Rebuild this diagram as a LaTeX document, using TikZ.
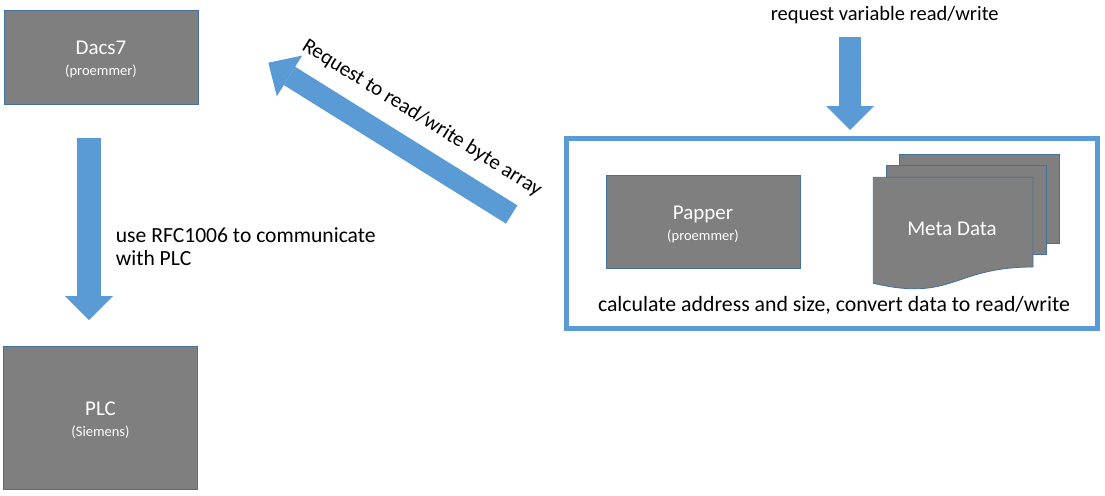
\documentclass[tikz,border=0pt]{standalone}
\usepackage{fontspec}
\setmainfont{Carlito}
\usetikzlibrary{arrows.meta}
\definecolor{boxgray}{HTML}{7F7F7F}
\definecolor{boxedge}{HTML}{41719C}
\definecolor{arrowblue}{HTML}{5B9BD5}
\newcommand{\bigtxt}{\fontsize{21}{23}\selectfont}
\newcommand{\smalltxt}{\fontsize{14.5}{17}\selectfont}
\newcommand{\boxtext}[2]{\raisebox{-3.5pt}[\height][\depth]{\begin{tabular}{@{}c@{}}#1\\[-2pt]{\smalltxt #2}\end{tabular}}}
\tikzset{
  graybox/.style={draw=boxedge, line width=0.8pt, fill=boxgray, text=white, align=center, inner sep=0pt, font=\bigtxt},
  page/.style={draw=boxedge, line width=0.8pt, fill=boxgray},
  container/.style={draw=arrowblue, line width=5pt, inner sep=0pt},
  label/.style={font=\bigtxt, text=black, inner sep=0pt},
  blockarrow/.style={draw=arrowblue, line cap=butt}
}
\begin{document}
\begin{tikzpicture}[x=1pt, y=-1pt]
\useasboundingbox (0,0) rectangle (1105,495);

% boxes
\node[graybox, minimum width=194pt, minimum height=94pt] (dacs) at (101,57) {\boxtext{Dacs7}{(proemmer)}};
\node[graybox, minimum width=194pt, minimum height=142.6pt] (plc) at (100.5,418) {\boxtext{PLC}{(Siemens)}};

% container
\node[container, minimum width=531pt, minimum height=190pt] (group) at (832,233) {};
\node[graybox, minimum width=194pt, minimum height=93pt] (papper) at (703,221.5) {\boxtext{Papper}{(proemmer)}};

% meta data (multi-document)
\path[page] (899,154.3) rectangle (1059,243.3);
\path[page] (886,165.3) rectangle (1046,254.5);
\path[page] (873.3,177.3) -- (1033,177.3) -- (1033,267)
   .. controls (953,267) and (953,302) .. (873.3,283.3) -- cycle;
\node[label, text=white] (meta) at (952,229) {Meta Data};

% labels
\node[label, font=\fontsize{20.5}{23}\selectfont] (req) at (884.7,15) {request variable read/write};
\node[label, anchor=west, align=left, font=\fontsize{21.6}{24}\selectfont] (rfc) at (115.7,246.5) {use RFC1006 to communicate\\[-1pt]with PLC};
\node[label, font=\fontsize{21.8}{24}\selectfont] (calc) at (834,305) {calculate address and size, convert data to read/write};
\node[label, rotate=-32] (diag) at (422,118) {Request to read/write byte array};

% arrows
\coordinate (d1s) at (89,138);
\coordinate (d1e) at (89,320);
\coordinate (d2s) at (850,37);
\coordinate (d2e) at (850,130);
\coordinate (d3s) at (511.7,214.5);
\coordinate (d3e) at (268.3,62.7);
\draw[blockarrow, line width=24pt, -{Triangle[width=48pt,length=24pt,line width=0pt]}] (d1s) -- (d1e);
\draw[blockarrow, line width=22pt, -{Triangle[width=48pt,length=24pt,line width=0pt]}] (d2s) -- (d2e);
\draw[blockarrow, line width=21.5pt, -{Triangle[width=48pt,length=25pt,line width=0pt]}] (d3s) -- (d3e);
\end{tikzpicture}
\end{document}
